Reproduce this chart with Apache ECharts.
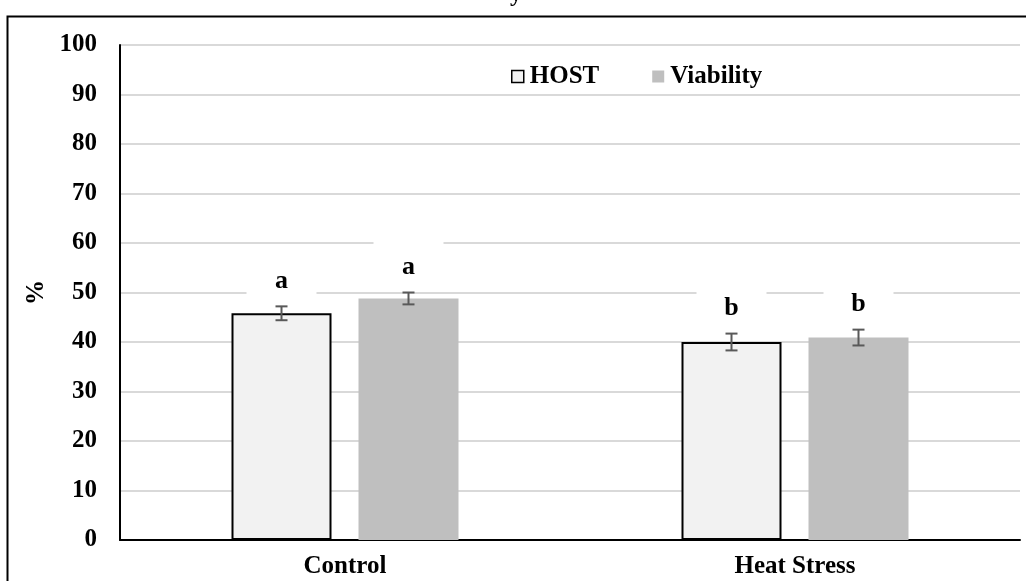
<!DOCTYPE html>
<html>
<head>
<meta charset="utf-8">
<script src="https://cdn.jsdelivr.net/npm/echarts@6/dist/echarts.min.js"></script>
<style>html,body{margin:0;padding:0;background:#fff}#c{width:1026px;height:581px}</style>
</head>
<body>
<div id="c"></div>
<script>
var categories = ['Control', 'Heat Stress'];
var yTicks = [0, 10, 20, 30, 40, 50, 60, 70, 80, 90, 100];
var hostValues = [45.8, 40.0];
var hostErr = [1.4, 1.7];
var hostLetters = ['a', 'b'];
var viabValues = [48.8, 40.9];
var viabErr = [1.2, 1.6];
var viabLetters = ['a', 'b'];

var FONT = '"Liberation Serif", "Times New Roman", serif';
var BAR_W = 100, GAP = 27;

function errData(vals, errs, letters) {
  return vals.map(function (v, i) { return [i, v, errs[i], letters[i]]; });
}
function makeErr(name, vals, errs, letters, side) {
  return {
    type: 'custom',
    name: name + '_err',
    z: 5,
    data: errData(vals, errs, letters),
    renderItem: function (params, api) {
      var ci = api.value(0), v = api.value(1), e = api.value(2);
      var letter = letters[params.dataIndex];
      var off = side * (BAR_W / 2 + GAP / 2);
      var top = api.coord([ci, v + e]);
      var bot = api.coord([ci, v - e]);
      var x = top[0] + off;
      var cap = 6;
      var ty = top[1] - 25;
      return {
        type: 'group',
        children: [
          {type: 'rect', shape: {x: x - 35, y: ty - 30, width: 70, height: 46}, style: {fill: '#fff'}, z2: 1},
          {type: 'line', shape: {x1: x, y1: top[1], x2: x, y2: bot[1]}, style: {stroke: '#595959', lineWidth: 2}},
          {type: 'line', shape: {x1: x - cap, y1: top[1], x2: x + cap, y2: top[1]}, style: {stroke: '#595959', lineWidth: 2}},
          {type: 'line', shape: {x1: x - cap, y1: bot[1], x2: x + cap, y2: bot[1]}, style: {stroke: '#595959', lineWidth: 2}},
          {type: 'text', style: {text: letter, x: x, y: ty, align: 'center', verticalAlign: 'middle', font: 'bold 26px ' + FONT, fill: '#000'}, z2: 2}
        ]
      };
    },
    silent: true,
    tooltip: {show: false}
  };
}

var chart = echarts.init(document.getElementById('c'));
chart.setOption({
  animation: false,
  backgroundColor: '#fff',
  graphic: [
    {type: 'rect', left: 5, top: 14, shape: {width: 1040, height: 600}, style: {fill: 'none', stroke: '#000', lineWidth: 2}, z: 100},
    {type: 'text', left: 510, top: -17, style: {text: 'y', font: 'bold 24px ' + FONT, fill: '#000'}, z: 100}
  ],
  grid: {left: 120, right: 6, top: 45, bottom: 41},
  legend: {
    top: 59,
    left: 506,
    itemWidth: 12,
    itemHeight: 12,
    itemGap: 53,
    icon: 'rect',
    textStyle: {fontFamily: FONT, fontWeight: 'bold', fontSize: 25, color: '#000', padding: [0, 0, 0, 1]},
    data: [
      {name: 'HOST', itemStyle: {color: '#f2f2f2', borderColor: '#000', borderWidth: 1.5}},
      {name: 'Viability', itemStyle: {color: '#bfbfbf'}}
    ]
  },
  xAxis: {
    type: 'category',
    data: categories,
    axisLine: {lineStyle: {color: '#000', width: 2}},
    axisTick: {show: false},
    axisLabel: {fontFamily: FONT, fontWeight: 'bold', fontSize: 25, color: '#000', margin: 14}
  },
  yAxis: {
    type: 'value',
    min: 0, max: 100, interval: 10,
    name: '%',
    nameLocation: 'middle',
    nameGap: 58,
    nameRotate: 90,
    nameTextStyle: {fontFamily: FONT, fontWeight: 'bold', fontSize: 25, color: '#000'},
    axisLine: {show: true, lineStyle: {color: '#000', width: 2}},
    axisTick: {show: false},
    axisLabel: {fontFamily: FONT, fontWeight: 'bold', fontSize: 25, color: '#000', margin: 23,
      formatter: function (v) { return yTicks.indexOf(v) >= 0 ? String(v) : ''; }},
    splitLine: {lineStyle: {color: '#d9d9d9', width: 2}}
  },
  series: [
    {type: 'bar', name: 'HOST', data: hostValues, barWidth: BAR_W, barGap: (GAP / BAR_W * 100) + '%',
      itemStyle: {color: '#f2f2f2', borderColor: '#000', borderWidth: 2}, z: 3},
    {type: 'bar', name: 'Viability', data: viabValues, barWidth: BAR_W,
      itemStyle: {color: '#bfbfbf'}, z: 3},
    makeErr('HOST', hostValues, hostErr, hostLetters, -1),
    makeErr('Viability', viabValues, viabErr, viabLetters, 1)
  ]
});
</script>
</body>
</html>
